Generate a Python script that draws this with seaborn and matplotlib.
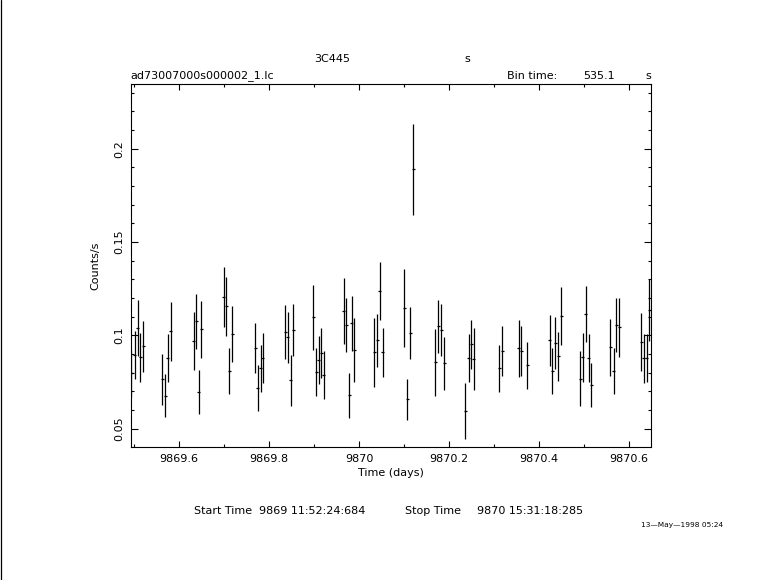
'''
    plot.py
    ASCA light curve of 3C445 (bin time 535.1 s), redrawn in the style of a
    PGPLOT/XRONOS plot.
'''
import pandas as pd
import seaborn as sns
import matplotlib.pyplot as plt
from matplotlib.lines import Line2D
from matplotlib.ticker import MultipleLocator, FuncFormatter

# bin centres (days), count rates (counts/s) and 1-sigma errors
TIME = [9869.4937, 9869.5015, 9869.5075, 9869.5133, 9869.5199,
        9869.5622, 9869.5689, 9869.5749, 9869.5809,
        9869.6320, 9869.6378, 9869.6438, 9869.6489,
        9869.6994, 9869.7045, 9869.7112, 9869.7179,
        9869.7690, 9869.7743, 9869.7810, 9869.7855,
        9869.8357, 9869.8417, 9869.8477, 9869.8535,
        9869.8980, 9869.9047, 9869.9100, 9869.9158, 9869.9211,
        9869.9656, 9869.9714, 9869.9780, 9869.9834, 9869.9892,
        9870.0336, 9870.0403, 9870.0463, 9870.0523,
        9870.1003, 9870.1070, 9870.1137, 9870.1204,
        9870.1693, 9870.1759, 9870.1826, 9870.1893,
        9870.2360, 9870.2442, 9870.2493, 9870.2553,
        9870.3116, 9870.3183,
        9870.3547, 9870.3605, 9870.3738,
        9870.4237, 9870.4294, 9870.4361, 9870.4428, 9870.4495,
        9870.4917, 9870.4977, 9870.5044, 9870.5104, 9870.5162,
        9870.5584, 9870.5660, 9870.5718, 9870.5784,
        9870.6274, 9870.6334, 9870.6400, 9870.6456]
RATE = [0.0796, 0.0894, 0.1038, 0.0882, 0.0941,
        0.0764, 0.0676, 0.0877, 0.1021,
        0.0968, 0.1075, 0.0695, 0.1032,
        0.1204, 0.1155, 0.0809, 0.1007,
        0.0930, 0.0716, 0.0823, 0.0877,
        0.1016, 0.0989, 0.0759, 0.1027,
        0.1096, 0.0802, 0.0866, 0.0904, 0.0786,
        0.1129, 0.1054, 0.0678, 0.1064, 0.0921,
        0.0909, 0.0973, 0.1236, 0.0909,
        0.1145, 0.0657, 0.1011, 0.1890,
        0.0855, 0.1048, 0.1028, 0.0850,
        0.0593, 0.0877, 0.0952, 0.0871,
        0.0823, 0.0916,
        0.0930, 0.0916, 0.0839,
        0.0973, 0.0807, 0.0957, 0.0887, 0.1102,
        0.0766, 0.0882, 0.1113, 0.0877, 0.0732,
        0.0936, 0.0807, 0.1054, 0.1043,
        0.0964, 0.0877, 0.0877, 0.1136]
ERROR = [0.0125, 0.0130, 0.0150, 0.0130, 0.0136,
         0.0138, 0.0116, 0.0128, 0.0159,
         0.0156, 0.0147, 0.0118, 0.0154,
         0.0161, 0.0158, 0.0122, 0.0152,
         0.0134, 0.0123, 0.0125, 0.0134,
         0.0145, 0.0138, 0.0136, 0.0139,
         0.0173, 0.0128, 0.0128, 0.0134, 0.0130,
         0.0177, 0.0146, 0.0120, 0.0146, 0.0173,
         0.0184, 0.0141, 0.0154, 0.0132,
         0.0208, 0.0111, 0.0140, 0.0243,
         0.0178, 0.0142, 0.0139, 0.0141,
         0.0151, 0.0128, 0.0132, 0.0166,
         0.0125, 0.0133,
         0.0152, 0.0134, 0.0127,
         0.0137, 0.0122, 0.0139, 0.0133, 0.0154,
         0.0147, 0.0131, 0.0149, 0.0129, 0.0117,
         0.0153, 0.0122, 0.0146, 0.0157,
         0.0155, 0.0132, 0.0129, 0.0166]

BIN_TIME = 535.1          # seconds
FS = 8.0


def _fmt(v, pos):
    return '%g' % round(v, 4)


def main():
    sns.set_style('ticks')
    plt.rcParams['font.family'] = ['DejaVu Sans']
    plt.rcParams['text.color'] = 'black'
    plt.rcParams['axes.labelcolor'] = 'black'
    df = pd.DataFrame({'time': TIME, 'rate': RATE, 'error': ERROR})
    half_bin = BIN_TIME / 86400.0 / 2

    fig = plt.figure(figsize=(7.81, 5.80), dpi=100)
    fig.patch.set_facecolor('white')
    ax = fig.add_axes([130.7 / 781, 1 - 447 / 580, 520 / 781, 362.7 / 580])
    ax.set_facecolor('white')

    ax.errorbar(df.time, df.rate, xerr=half_bin, yerr=df.error, fmt='none',
                ecolor='black', elinewidth=0.9, capsize=0)

    ax.set_xlim(9869.4923, 9870.6486)
    ax.set_ylim(0.0401, 0.2345)
    ax.xaxis.set_major_locator(MultipleLocator(0.2))
    ax.xaxis.set_minor_locator(MultipleLocator(0.1))
    ax.yaxis.set_major_locator(MultipleLocator(0.05))
    ax.yaxis.set_minor_locator(MultipleLocator(0.01))
    ax.xaxis.set_major_formatter(FuncFormatter(_fmt))
    ax.yaxis.set_major_formatter(FuncFormatter(_fmt))

    for s in ax.spines.values():
        s.set_linewidth(0.8)
        s.set_color('black')
    ax.tick_params(which='both', direction='in', top=True, right=True,
                   colors='black', width=0.8, labelsize=FS)
    ax.tick_params(axis='x', which='major', length=4.2, pad=5)
    ax.tick_params(axis='x', which='minor', length=2.3)
    ax.tick_params(axis='y', which='major', length=5, pad=5)
    ax.tick_params(axis='y', which='minor', length=2)
    for lab in ax.get_yticklabels():
        lab.set_rotation(90)
        lab.set_va('center')

    ax.set_xlabel('Time (days)', fontsize=FS, labelpad=3)
    ax.set_ylabel('Counts/s', fontsize=FS)
    ax.yaxis.set_label_coords(-0.059, 0.5)

    # header lines above the plot
    W, H = 781.0, 580.0
    fig.text(332 / W, 1 - 59.5 / H, '3C445', ha='center', va='center',
             fontsize=FS)
    fig.text(467 / W, 1 - 59.5 / H, 's', ha='center', va='center',
             fontsize=FS)
    fig.text(130.5 / W, 1 - 75.7 / H, 'ad73007000s000002_1.lc', ha='left',
             va='center', fontsize=FS)
    fig.text(507 / W, 1 - 75.7 / H, 'Bin time:', ha='left', va='center',
             fontsize=FS)
    fig.text(583 / W, 1 - 75.7 / H, '%.1f' % BIN_TIME, ha='left',
             va='center', fontsize=FS)
    fig.text(651 / W, 1 - 75.7 / H, 's', ha='right', va='center',
             fontsize=FS)

    # footer lines
    fig.text(194 / W, 1 - 511 / H, 'Start Time', ha='left', va='center',
             fontsize=FS)
    fig.text(259 / W, 1 - 511 / H, '9869 11:52:24:684', ha='left',
             va='center', fontsize=FS)
    fig.text(405 / W, 1 - 511 / H, 'Stop Time', ha='left', va='center',
             fontsize=FS)
    fig.text(477 / W, 1 - 511 / H, '9870 15:31:18:285', ha='left',
             va='center', fontsize=FS)
    fig.text(641 / W, 1 - 525.5 / H, '13\u2014May\u20141998 05:24', ha='left',
             va='center', fontsize=5.3)

    # frame line on the left edge of the page
    fig.add_artist(Line2D([0.6 / W, 0.6 / W], [0, 1], color='black',
                          linewidth=0.9, transform=fig.transFigure))

    fig.savefig('out.png', dpi=100, facecolor='white')


if __name__ == '__main__':
    main()
